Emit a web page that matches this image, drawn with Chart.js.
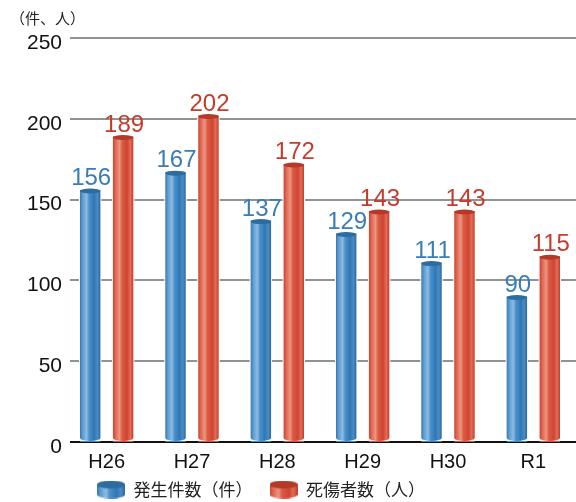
<!DOCTYPE html>
<html>
<head>
<meta charset="utf-8">
<style>
html,body{margin:0;padding:0;background:#fff;}
#wrap{width:576px;height:502px;position:relative;}
</style>
<script src="https://cdn.jsdelivr.net/npm/chart.js@4"></script>
</head>
<body>
<div id="wrap"><canvas id="c" width="576" height="502"></canvas></div>
<script>
const categories = ["H26", "H27", "H28", "H29", "H30", "R1"];
const incidents = [156, 167, 137, 129, 111, 90];
const casualties = [189, 202, 172, 143, 143, 115];
const seriesLabels = ["発生件数（件）", "死傷者数（人）"];
const yTicks = [0, 50, 100, 150, 200, 250];
const unitLabel = "（件、人）";

const FONT = "'Liberation Sans', Arial, Helvetica, sans-serif";
const CJK = "'Noto Sans CJK JP', 'Noto Sans', sans-serif";

const palettes = [
  { base: '#3f88c5', cap: '#2c6c9f', text: '#3a7db6',
    stops: [[0,'#3677b0'],[0.12,'#5a9bd1'],[0.32,'#8dbbe3'],[0.45,'#4a90ca'],[0.7,'#2f78b5'],[0.85,'#4a8cc6'],[1,'#2b6aa0']] },
  { base: '#d9523d', cap: '#b33a28', text: '#c43d2c',
    stops: [[0,'#c94431'],[0.12,'#e0644f'],[0.32,'#ec9683'],[0.45,'#dc5a45'],[0.7,'#cf4632'],[0.85,'#e26d58'],[1,'#bd3f2c']] }
];

function makeIcon(p) {
  const c = document.createElement('canvas');
  c.width = 28; c.height = 18;
  const g = c.getContext('2d');
  const gr = g.createLinearGradient(0, 0, 28, 0);
  p.stops.forEach(s => gr.addColorStop(s[0], s[1]));
  g.fillStyle = gr;
  g.beginPath();
  g.moveTo(0, 4);
  g.lineTo(0, 14);
  g.ellipse(14, 14, 14, 4, 0, Math.PI, 0, true);
  g.lineTo(28, 4);
  g.closePath();
  g.fill();
  g.fillStyle = p.cap;
  g.beginPath();
  g.ellipse(14, 4, 14, 4, 0, 0, Math.PI * 2);
  g.fill();
  return c;
}
const icons = palettes.map(makeIcon);

const cylinderPlugin = {
  id: 'cylinder',
  afterDatasetsDraw(chart) {
    const ctx = chart.ctx;
    chart.data.datasets.forEach((ds, di) => {
      const meta = chart.getDatasetMeta(di);
      const p = palettes[di];
      meta.data.forEach((el, i) => {
        const props = el.getProps(['x', 'y', 'base', 'width'], true);
        const w = props.width, l = props.x - w / 2, r = props.x + w / 2;
        const top = props.y, base = props.base;
        const ry = 3;
        ctx.save();
        ctx.fillStyle = '#fff';
        ctx.fillRect(l - 1, top - 1, w + 2, base - top);
        const gr = ctx.createLinearGradient(l, 0, r, 0);
        p.stops.forEach(s => gr.addColorStop(s[0], s[1]));
        ctx.fillStyle = gr;
        ctx.beginPath();
        ctx.moveTo(l, top);
        ctx.lineTo(l, base - ry - 1);
        ctx.ellipse(props.x, base - ry - 1, w / 2, ry, 0, Math.PI, 0, true);
        ctx.lineTo(r, top);
        ctx.closePath();
        ctx.fill();
        ctx.fillStyle = p.cap;
        ctx.beginPath();
        ctx.ellipse(props.x, top + 1, w / 2, 2.5, 0, 0, Math.PI * 2);
        ctx.fill();
        ctx.fillStyle = p.text;
        ctx.font = '24px ' + FONT;
        ctx.textAlign = 'center';
        ctx.textBaseline = 'alphabetic';
        ctx.fillText(String(ds.data[i]), props.x + 1, top - 5);
        ctx.restore();
      });
    });
  }
};

const gridPlugin = {
  id: 'customGrid',
  beforeDatasetsDraw(chart) {
    const ctx = chart.ctx;
    const ys = chart.scales.y;
    const area = chart.chartArea;
    ctx.save();
    yTicks.forEach(v => {
      const y = Math.round(ys.getPixelForValue(v));
      ctx.strokeStyle = v === 0 ? '#111' : '#6e6e6e';
      ctx.lineWidth = v === 0 ? 2 : 1.5;
      ctx.beginPath();
      ctx.moveTo(70, y);
      ctx.lineTo(area.right, y);
      ctx.stroke();
    });
    ctx.restore();
  },
  afterDraw(chart) {
    const ctx = chart.ctx;
    ctx.save();
    ctx.fillStyle = '#222';
    ctx.font = '15px ' + CJK;
    ctx.textAlign = 'left';
    ctx.textBaseline = 'middle';
    ctx.fillText(unitLabel, 10, 18);
    ctx.restore();
  }
};

const legendShift = {
  id: 'legendShift',
  afterLayout(chart) {
    const lg = chart.legend;
    if (!lg) return;
    const dx = -27, dy = -18;
    lg.left += dx; lg.right += dx;
    lg.top += dy; lg.bottom += dy;
  }
};

new Chart(document.getElementById('c'), {
  type: 'bar',
  data: {
    labels: categories,
    datasets: [
      { label: seriesLabels[0], data: incidents, backgroundColor: palettes[0].base, pointStyle: icons[0] },
      { label: seriesLabels[1], data: casualties, backgroundColor: palettes[1].base, pointStyle: icons[1] }
    ]
  },
  options: {
    responsive: false,
    animation: false,
    devicePixelRatio: 1,
    layout: { padding: { top: 38, right: 0, left: 0, bottom: -24 } },
    datasets: { bar: { categoryPercentage: 0.772, barPercentage: 0.62 } },
    scales: {
      x: {
        grid: { display: false, drawTicks: false },
        border: { display: false },
        ticks: { color: '#111', font: { family: FONT, size: 20 }, padding: 8 }
      },
      y: {
        min: 0, max: 250,
        afterFit(s) { s.width = 64; },
        afterBuildTicks(s) { s.ticks = yTicks.map(v => ({ value: v })); },
        grid: { display: false, drawTicks: false },
        border: { display: false },
        ticks: { color: '#111', font: { family: FONT, size: 21 }, padding: 2, labelOffset: 5 }
      }
    },
    plugins: {
      legend: {
        position: 'bottom',
        labels: {
          usePointStyle: true,
          pointStyleWidth: 28,
          boxHeight: 18,
          padding: 17,
          color: '#222',
          font: { family: CJK, size: 17 }
        }
      },
      tooltip: { enabled: false }
    }
  },
  plugins: [gridPlugin, cylinderPlugin, legendShift]
});
</script>
</body>
</html>
